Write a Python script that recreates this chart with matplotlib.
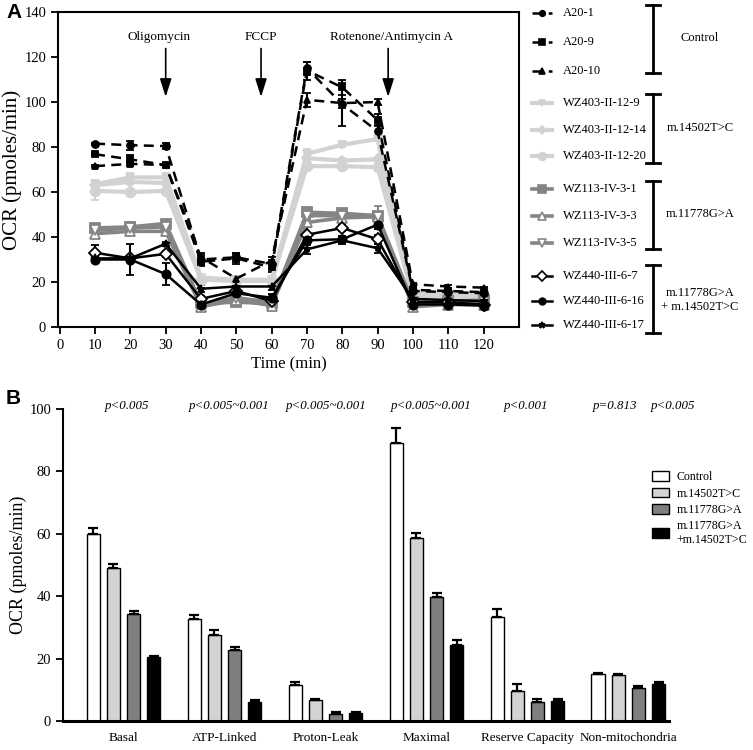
import numpy as np
import matplotlib
matplotlib.use("Agg")
import matplotlib.pyplot as plt
from matplotlib.patches import Patch

plt.rcParams['font.family'] = ['Liberation Serif', 'DejaVu Serif']

# ---- panel A: OCR time course ----
time = [10, 20, 30, 40, 50, 60, 70, 80, 90, 100, 110, 120]

a20_1 = [81.5, 80.8, 80.4, 30.0, 31.0, 28.0, 115.0, 99.0, 87.0, 16.0, 15.5, 15.0]
a20_9 = [76.8, 74.5, 72.0, 29.0, 30.5, 26.5, 114.0, 106.5, 92.0, 16.5, 16.0, 15.5]
a20_10 = [71.5, 72.5, 72.0, 31.0, 21.5, 29.5, 101.0, 99.5, 100.0, 19.0, 18.0, 17.5]
wz403_9 = [63.5, 66.5, 66.5, 22.0, 21.0, 21.0, 77.0, 81.0, 83.5, 15.0, 15.0, 15.0]
wz403_14 = [63.0, 64.5, 64.0, 21.5, 20.5, 20.5, 75.0, 74.0, 74.5, 14.5, 14.0, 14.0]
wz403_20 = [60.5, 60.0, 60.5, 21.0, 20.5, 20.5, 71.5, 71.5, 71.0, 13.5, 13.5, 13.5]
wz113_1 = [44.0, 44.5, 46.0, 10.5, 11.0, 10.5, 51.0, 50.5, 49.5, 11.0, 11.5, 12.0]
wz113_3 = [41.5, 42.5, 42.5, 9.0, 12.0, 9.5, 46.5, 48.5, 49.0, 9.0, 10.0, 10.0]
wz113_5 = [43.0, 44.0, 44.5, 10.0, 13.0, 11.0, 49.5, 49.5, 49.0, 10.0, 10.5, 11.0]
wz440_7 = [33.0, 30.5, 32.5, 12.5, 16.0, 11.5, 41.0, 44.0, 39.0, 11.0, 11.0, 10.0]
wz440_16 = [30.0, 30.0, 23.5, 10.0, 15.0, 13.0, 38.5, 39.0, 45.5, 10.0, 10.0, 9.5]
wz440_17 = [30.5, 30.5, 37.0, 17.0, 18.0, 18.0, 34.5, 38.5, 35.0, 12.5, 12.0, 11.5]

e_a20_1 = [0.5, 2.0, 1.5, 2.0, 2.0, 2.0, 3.0, 9.5, 3.0, 1.0, 1.0, 1.0]
e_a20_9 = [0.5, 2.0, 1.0, 2.0, 2.5, 2.0, 4.0, 3.5, 2.5, 1.0, 1.0, 1.0]
e_a20_10 = [0.5, 1.0, 1.0, 2.0, 1.0, 1.5, 3.0, 2.0, 1.5, 0.5, 0.5, 0.5]
e_wz403_9 = [1.0, 1.0, 1.0, 1.0, 1.0, 1.0, 2.0, 1.0, 1.0, 1.0, 1.0, 1.0]
e_wz403_14 = [1.0, 1.0, 1.0, 1.0, 1.0, 1.0, 1.5, 1.0, 1.0, 1.0, 1.0, 1.0]
e_wz403_20 = [4.0, 1.0, 1.5, 1.0, 1.0, 1.0, 1.5, 1.0, 1.5, 1.0, 1.0, 1.0]
e_wz113_1 = [1.5, 2.0, 1.5, 1.0, 1.0, 1.0, 1.5, 1.5, 1.5, 1.0, 1.0, 1.0]
e_wz113_3 = [1.0, 1.0, 1.0, 1.0, 1.0, 1.0, 1.5, 1.5, 1.5, 1.0, 1.0, 1.0]
e_wz113_5 = [1.0, 1.0, 1.0, 1.0, 1.0, 1.0, 1.5, 1.5, 5.0, 1.0, 1.0, 1.0]
e_wz440_7 = [3.5, 1.0, 1.5, 1.5, 1.5, 1.5, 3.5, 1.5, 2.0, 1.0, 1.0, 1.0]
e_wz440_16 = [1.0, 7.0, 5.0, 3.0, 1.5, 1.5, 2.0, 1.5, 2.0, 1.0, 1.0, 1.0]
e_wz440_17 = [1.0, 1.0, 1.0, 1.5, 1.5, 1.5, 2.0, 1.5, 2.0, 1.0, 1.0, 1.0]

LIGHT = '#d2d2d2'
MID = '#858585'

# label, values, errors, color, linestyle, marker, markerface, lw, ms
series = [
    ('A20-1', a20_1, e_a20_1, 'black', (0, (4, 2.5)), 'o', 'black', 1.8, 5),
    ('A20-9', a20_9, e_a20_9, 'black', (0, (4, 2.5)), 's', 'black', 1.8, 5),
    ('A20-10', a20_10, e_a20_10, 'black', (0, (4, 2.5)), '^', 'black', 1.8, 5),
    ('WZ403-II-12-9', wz403_9, e_wz403_9, LIGHT, '-', 'v', LIGHT, 3.0, 6),
    ('WZ403-II-12-14', wz403_14, e_wz403_14, LIGHT, '-', 'D', LIGHT, 3.0, 5),
    ('WZ403-II-12-20', wz403_20, e_wz403_20, LIGHT, '-', 'o', LIGHT, 3.0, 7),
    ('WZ113-IV-3-1', wz113_1, e_wz113_1, MID, '-', 's', MID, 2.6, 7),
    ('WZ113-IV-3-3', wz113_3, e_wz113_3, MID, '-', '^', 'white', 2.6, 7),
    ('WZ113-IV-3-5', wz113_5, e_wz113_5, MID, '-', 'v', 'white', 2.6, 7),
    ('WZ440-III-6-7', wz440_7, e_wz440_7, 'black', '-', 'D', 'white', 1.8, 6),
    ('WZ440-III-6-16', wz440_16, e_wz440_16, 'black', '-', 'o', 'black', 1.8, 6),
    ('WZ440-III-6-17', wz440_17, e_wz440_17, 'black', '-', '*', 'black', 1.8, 6),
]
draw_order = [3, 4, 5, 6, 7, 8, 9, 10, 11, 0, 1, 2]

groups_a = ['Control', 'm.14502T>C', 'm.11778G>A', 'm.11778G>A\n+ m.14502T>C']

drugs = ['Oligomycin', 'FCCP', 'Rotenone/Antimycin A']
drug_times = [30, 57, 93]
drug_label_x = [28, 57, 94]

# ---- panel B: bar summary ----
categories = ['Basal', 'ATP-Linked', 'Proton-Leak', 'Maximal', 'Reserve Capacity', 'Non-mitochondria']
bar_groups = ['Control', 'm.14502T>C', 'm.11778G>A', 'm.11778G>A\n+m.14502T>C']
bar_colors = ['white', '#d3d3d3', '#7f7f7f', 'black']
control = [60.0, 32.7, 11.5, 89.0, 33.2, 14.9]
t14502 = [49.0, 27.7, 6.6, 58.8, 9.7, 14.7]
g11778 = [34.3, 22.8, 2.3, 39.7, 6.0, 10.7]
double = [20.5, 6.0, 2.6, 24.5, 6.4, 11.8]
control_err = [1.7, 1.2, 0.9, 5.0, 2.6, 0.5]
t14502_err = [1.2, 1.4, 0.5, 1.5, 2.0, 0.4]
g11778_err = [0.9, 1.0, 0.7, 1.2, 1.2, 0.4]
double_err = [0.4, 0.8, 0.4, 1.5, 0.8, 0.7]
p_labels = ['p<0.005', 'p<0.005~0.001', 'p<0.005~0.001', 'p<0.005~0.001', 'p<0.001', 'p=0.813', 'p<0.005']
p_x = [0.03, 1.05, 2.01, 3.05, 3.99, 4.87, 5.44]

fig = plt.figure(figsize=(7.53, 7.5), dpi=100)

# ---------- A ----------
ax = fig.add_axes([0.077, 0.564, 0.612, 0.42])
for i in draw_order:
    lab, v, e, c, ls, m, mf, lw, ms = series[i]
    ax.errorbar(time, v, yerr=e, color=c, ls=ls, lw=lw, marker=m, mfc=mf, mec=c,
                ms=ms, mew=1.3, ecolor=c, elinewidth=1.5, capsize=3, capthick=1.5)
ax.set_xlim(-0.5, 130)
ax.set_ylim(0, 140)
ax.set_xticks(np.arange(0, 121, 10))
ax.set_yticks(np.arange(0, 141, 20))
ax.tick_params(direction='out', length=5, width=1.3, labelsize=10.5)
for s in ax.spines.values():
    s.set_linewidth(1.5)
ax.set_xlabel('Time (min)', fontsize=12, labelpad=3)
ax.set_ylabel('OCR (pmoles/min)', fontsize=15, labelpad=2)

for name, tx, lx in zip(drugs, drug_times, drug_label_x):
    ax.text(lx, 129, name, ha='center', va='center', fontsize=9.5)
    ax.annotate('', xy=(tx, 101), xytext=(tx, 125),
                arrowprops=dict(arrowstyle='-|>,head_width=0.35,head_length=1.1',
                                color='black', lw=1.2))

# ---------- B ----------
axb = fig.add_axes([0.0837, 0.0387, 0.8043, 0.416])
x = np.arange(len(categories))
width = 0.13
offsets = [-0.3, -0.1, 0.1, 0.3]
vals = [control, t14502, g11778, double]
errs = [control_err, t14502_err, g11778_err, double_err]
for off, v, e, col in zip(offsets, vals, errs, bar_colors):
    axb.bar(x + off, v, width, color=col, edgecolor='black', linewidth=1.0)
    axb.errorbar(x + off, v, yerr=[np.zeros(len(e)), e], fmt='none', ecolor='black',
                 elinewidth=1.6, capsize=3.5, capthick=1.6)
axb.set_xlim(-0.6, 5.4)
axb.set_ylim(0, 100)
axb.set_yticks(np.arange(0, 101, 20))
axb.set_xticks(x)
axb.set_xticklabels(categories, fontsize=9.5)
axb.tick_params(axis='x', length=0, pad=8)
axb.tick_params(axis='y', direction='out', length=5, width=1.3, labelsize=10.5)
axb.spines['top'].set_visible(False)
axb.spines['right'].set_visible(False)
axb.spines['left'].set_linewidth(1.5)
axb.spines['bottom'].set_linewidth(2.2)
axb.set_ylabel('OCR (pmoles/min)', fontsize=13, labelpad=2)
for px, pl in zip(p_x, p_labels):
    axb.text(px, 100.8, pl, ha='center', va='center', fontsize=9.3, style='italic')

handles = [Patch(facecolor=c, edgecolor='black', linewidth=1.0) for c in bar_colors]
axb.legend(handles, bar_groups, loc='upper left', bbox_to_anchor=(0.86, 0.378),
           bbox_transform=fig.transFigure, frameon=False, fontsize=8.6,
           handlelength=1.4, handleheight=0.9, labelspacing=0.35, handletextpad=0.6,
           borderaxespad=0)

# ---------- overlay: custom legend for A and panel letters ----------
ov = fig.add_axes([0, 0, 1, 1])
ov.set_xlim(0, 753)
ov.set_ylim(750, 0)
ov.axis('off')
row_y = [13, 42, 71, 103, 130, 156, 189, 216, 243, 276, 301, 325]
for (lab, v, e, c, ls, m, mf, lw, ms), yy in zip(series, row_y):
    ov.plot([532, 552], [yy, yy], color=c, ls=ls, lw=lw)
    ov.plot([542], [yy], marker=m, color=c, mfc=mf, mec=c, ms=ms * 0.8, mew=1.2)
    ov.text(563, yy, lab, ha='left', va='center', fontsize=9)
brackets = [(5, 73), (94, 163), (181, 249), (265, 333)]
label_y = [38, 128, 214, 300]
for (y0, y1), gl, ly in zip(brackets, groups_a, label_y):
    ov.plot([653, 653], [y0, y1], color='black', lw=2)
    ov.plot([646, 660], [y0, y0], color='black', lw=2)
    ov.plot([646, 660], [y1, y1], color='black', lw=2)
    ov.text(700, ly, gl, ha='center', va='center', fontsize=9, linespacing=1.15)
ov.text(6, 12, 'A', fontsize=15, fontweight='bold', family='Liberation Sans', va='center')
ov.text(6, 398, 'B', fontsize=15, fontweight='bold', family='Liberation Sans', va='center')

fig.savefig('out.png', dpi=100)
